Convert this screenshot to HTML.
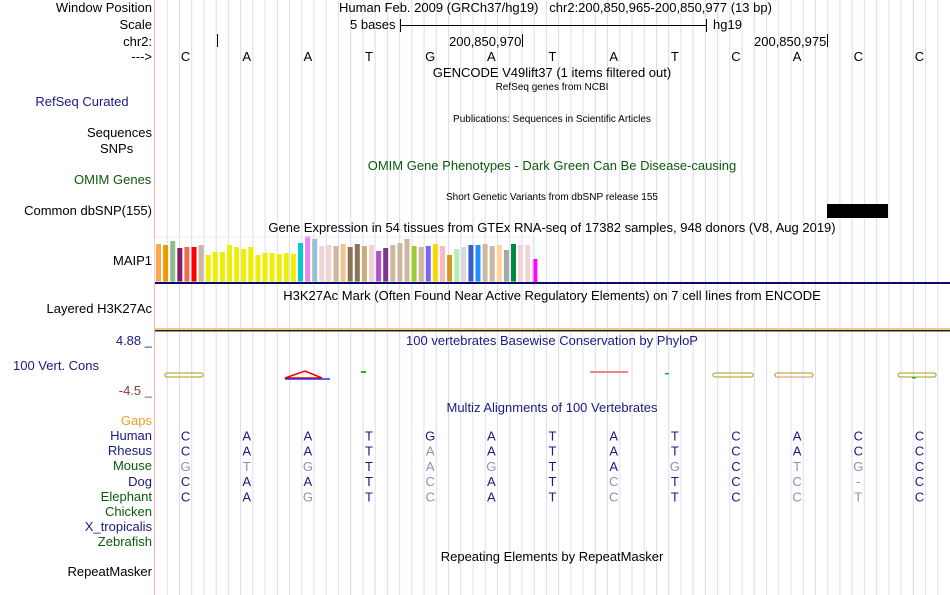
<!DOCTYPE html>
<html><head><meta charset="utf-8">
<style>
body{margin:0;width:950px;height:595px;background:#fff;overflow:hidden;position:relative;font-family:"Liberation Sans",sans-serif;font-size:13px;color:#000}
.t{position:absolute;white-space:nowrap;line-height:14px}
.r{text-align:right;width:152px;left:0}
.c{transform:translateX(-50%)}
.s{font-size:10px}
.nv{color:#1a1a80}
.gr{color:#0a5a0a}
svg{position:absolute;left:0;top:0}
</style></head><body>
<svg id="grid" width="950" height="595"></svg>

<div class="t r" style="top:1px">Window Position</div>
<div class="t r" style="top:18px">Scale</div>
<div class="t r" style="top:35px">chr2:</div>
<div class="t r" style="top:50px">---&gt;</div>
<div class="t" style="top:1px;left:339px">Human Feb. 2009 (GRCh37/hg19) &nbsp; chr2:200,850,965-200,850,977 (13 bp)</div>
<div class="t" style="top:18px;left:350px">5 bases</div>
<div class="t" style="top:18px;left:713px">hg19</div>
<div class="t" style="top:35px;left:449px">200,850,970</div>
<div class="t" style="top:35px;left:754px">200,850,975</div>

<div class="t c" style="top:66px;left:552px">GENCODE V49lift37 (1 items filtered out)</div>
<div class="t c s" style="top:81px;left:552px">RefSeq genes from NCBI</div>
<div class="t c nv" style="top:95px;left:82px">RefSeq Curated</div>
<div class="t c s" style="top:113px;left:552px">Publications: Sequences in Scientific Articles</div>
<div class="t r" style="top:126px">Sequences</div>
<div class="t" style="top:142px;left:100px">SNPs</div>
<div class="t c gr" style="top:159px;left:552px">OMIM Gene Phenotypes - Dark Green Can Be Disease-causing</div>
<div class="t gr" style="top:173px;left:74px">OMIM Genes</div>
<div class="t c s" style="top:191px;left:552px">Short Genetic Variants from dbSNP release 155</div>
<div class="t r" style="top:204px">Common dbSNP(155)</div>
<div class="t c" style="top:221px;left:552px">Gene Expression in 54 tissues from GTEx RNA-seq of 17382 samples, 948 donors (V8, Aug 2019)</div>
<div class="t r" style="top:254px">MAIP1</div>
<div class="t c" style="top:289px;left:552px">H3K27Ac Mark (Often Found Near Active Regulatory Elements) on 7 cell lines from ENCODE</div>
<div class="t r" style="top:302px">Layered H3K27Ac</div>
<div class="t r nv" style="top:334px">4.88 _</div>
<div class="t c nv" style="top:334px;left:552px">100 vertebrates Basewise Conservation by PhyloP</div>
<div class="t nv" style="top:359px;left:13px">100 Vert. Cons</div>
<div class="t r" style="top:384px;color:#8b3a3a">-4.5 _</div>
<div class="t c nv" style="top:401px;left:552px">Multiz Alignments of 100 Vertebrates</div>
<div class="t r" style="top:414px;color:#f0a020">Gaps</div>
<div class="t c" style="top:550px;left:552px">Repeating Elements by RepeatMasker</div>
<div class="t r" style="top:565px">RepeatMasker</div>
<div id="rows"></div>

<script>
const gtexValues=[38,37,41,34,35,35,37,27,30,30,37,35,33,35,27,29,29,28,29,28,39,46,43,36,37,36,38,35,38,36,37,31,34,37,39,43,36,35,36,38,36,27,33,35,37,37,38,36,37,32,38,37,37,23];
const gtexColors=["#FFA54F","#EE9A00","#8FBC8F","#8B1C62","#EE6A50","#FF0000","#CDB79E","#EEEE00","#EEEE00","#EEEE00","#EEEE00","#EEEE00","#EEEE00","#EEEE00","#EEEE00","#EEEE00","#EEEE00","#EEEE00","#EEEE00","#EEEE00","#00CDCD","#EE82EE","#9AC0CD","#EED5D2","#EED5D2","#CDB79E","#EEC591","#8B7355","#8B7355","#CDAA7D","#EED5D2","#B452CD","#7A378B","#CDB79E","#CDB79E","#CDB79E","#9ACD32","#CDB79E","#7A67EE","#FFD700","#FFB6C1","#CD9B1D","#B4EEB4","#D9D9D9","#3A5FCD","#1E90FF","#CDB79E","#CDB79E","#FFD39B","#A6A6A6","#008B45","#EED5D2","#EED5D2","#FF00FF"];
const refBases=["C","A","A","T","G","A","T","A","T","C","A","C","C"];
const species=["Human","Rhesus","Mouse","Dog","Elephant","Chicken","X_tropicalis","Zebrafish"];
const speciesSeqs=["CAATGATATCACC","CAATAATATCACC","GTGTAGTAGCTGC","CAATCATCTCC-C","CAGTCATCTCCTC","","",""];
const speciesColors=["#1a1a80","#1a1a80","#0a5a0a","#1a1a80","#0a5a0a","#0a5a0a","#1a1a80","#0a5a0a"];

const NS="http://www.w3.org/2000/svg";
const svg=document.getElementById('grid');
const X0=155,BW=795/13;
const bx=i=>X0+BW*(i+0.5);
function mk(tag,attrs,name){const e=document.createElementNS(NS,tag);for(const k in attrs)e.setAttribute(k,attrs[k]);


svg.appendChild(e);return e;}
for(let x=X0+795/65;x<950;x+=795/65){mk('line',{x1:x,x2:x,y1:0,y2:595,stroke:'#dcdcf4','stroke-width':1},'grid-line');}
mk('line',{x1:154.5,x2:154.5,y1:0,y2:595,stroke:'#ffb0b0','stroke-width':1},'label-divider');
mk('line',{x1:400,x2:706,y1:25.5,y2:25.5,stroke:'#000'},'scale-bar');
mk('line',{x1:400.5,x2:400.5,y1:19,y2:32,stroke:'#000'},'scale-tick-left');
mk('line',{x1:706.5,x2:706.5,y1:19,y2:32,stroke:'#000'},'scale-tick-right');
[217,522,827].forEach(x=>{mk('line',{x1:x+.5,x2:x+.5,y1:34,y2:47,stroke:'#000'},'coord-tick');});
refBases.forEach((b,i)=>{const t=mk('text',{x:bx(i),y:61,'text-anchor':'middle','font-size':13,'font-family':'Liberation Sans'},'base-'+i);t.textContent=b;});
mk('rect',{x:827,y:204,width:61,height:14,fill:'#000'},'dbsnp-item');
const base=282,scale=1;
gtexValues.forEach((v,i)=>{const h=v*scale;mk('rect',{x:156+i*7.1,y:base-h,width:5,height:h,fill:gtexColors[i]},'gtex-bar-'+i);});
mk('rect',{x:155,y:237,width:378,height:45,fill:'none',stroke:'#eee'},'gtex-frame');
mk('rect',{x:155,y:282,width:795,height:2,fill:'#0a0a6a'},'gtex-baseline');
mk('rect',{x:155,y:328,width:795,height:2,fill:'#f4c880'},'h3k27ac-line-orange');
mk('rect',{x:155,y:330,width:795,height:1.5,fill:'#222'},'h3k27ac-line-dark');
[[165,203],[713,753],[775,813],[898,936]].forEach(([a,b])=>{mk('rect',{x:a,y:373,width:b-a,height:4,rx:2,fill:'none',stroke:'#b8b040','stroke-width':1.3},'phylop-glyph');});
mk('path',{d:'M285 378 L305 371 L322 378 Z',fill:'none',stroke:'#e00','stroke-width':1.5},'phylop-peak');
mk('line',{x1:285,x2:330,y1:379,y2:379,stroke:'#33c','stroke-width':1.5},'phylop-neg');
mk('line',{x1:590,x2:628,y1:372,y2:372,stroke:'#e88','stroke-width':2},'phylop-red');
mk('line',{x1:775,x2:813,y1:377,y2:377,stroke:'#f99','stroke-width':1},'phylop-red2');
mk('rect',{x:361,y:371,width:5,height:2,fill:'#0c0'},'phylop-green');
mk('rect',{x:665,y:373,width:4,height:1.5,fill:'#0c0'},'phylop-green2');
mk('rect',{x:912,y:377,width:4,height:1.5,fill:'#0c0'},'phylop-green3');
const rows=document.getElementById('rows');
species.forEach((sp,r)=>{const y=429+r*15.2;
const d=document.createElement('div');d.className='t r';d.style.top=y+'px';d.style.color=speciesColors[r];d.textContent=sp;


rows.appendChild(d);
const seq=speciesSeqs[r];
for(let i=0;i<seq.length;i++){const ch=seq[i];const same=ch===refBases[i];
const t=mk('text',{x:bx(i),y:y+11.5,'text-anchor':'middle','font-size':13,'font-family':'Liberation Sans',fill:same?'#1a1a80':'#9090b0'},'align-base');t.textContent=ch;}
});
</script>
</body></html>
